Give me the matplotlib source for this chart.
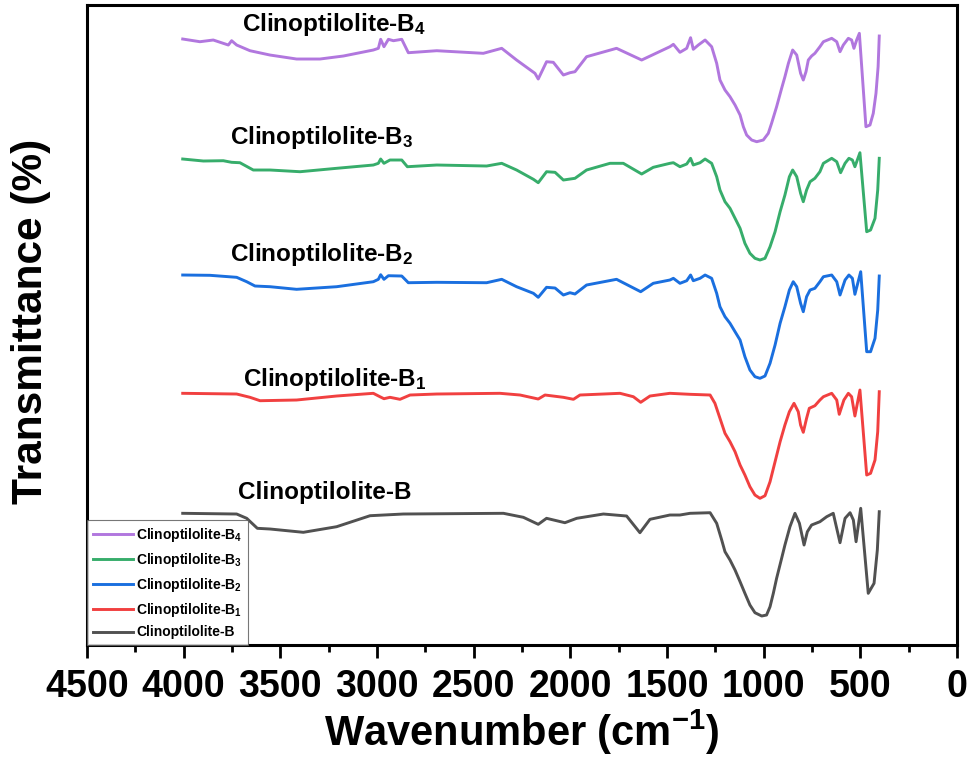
import matplotlib
matplotlib.use("Agg")
import matplotlib.pyplot as plt
from matplotlib.ticker import MultipleLocator

plt.rcParams['font.family'] = ['Liberation Sans', 'DejaVu Sans']
plt.rcParams['mathtext.fontset'] = 'custom'
plt.rcParams['mathtext.rm'] = 'Liberation Sans:bold'
plt.rcParams['mathtext.bf'] = 'Liberation Sans:bold'
plt.rcParams['mathtext.it'] = 'Liberation Sans:bold'

# ---- data (wavenumber cm-1, transmittance a.u. with vertical offsets) ----
wn_B4 = [4005, 3916, 3847, 3769, 3752, 3726, 3657, 3554, 3416, 3295, 3174, 3019, 2993, 2981, 2964,
         2941, 2915, 2872, 2838, 2691, 2450, 2355, 2278, 2183, 2166, 2123, 2088, 2036, 2002, 1976,
         1916, 1761, 1631, 1485, 1467, 1433, 1398, 1378, 1364, 1338, 1303,
         1269, 1243, 1226, 1200, 1174, 1148, 1122, 1105, 1088, 1062, 1036, 1002, 976, 959, 933, 907,
         890, 872, 850, 829, 809, 795, 781, 769, 752, 735, 709, 691, 648, 622, 605, 588, 562, 545,
         533, 519, 505, 471, 450, 433, 419, 408, 402]
T_B4 = [606, 603.3, 605, 600, 604.3, 600, 594.3, 590, 586, 586, 589, 595, 596.7, 605.7, 598.3,
        605.7, 604.3, 605.7, 592.3, 594.3, 591.7, 596.7, 585, 571.7, 566, 583.3, 582.7, 570, 572.3, 573.3,
        588.3, 596.7, 585, 598.3, 600.7, 592.7, 596.7, 607.3, 595.7, 600, 605,
        598.3, 581.7, 565, 555, 548.3, 540, 530, 518.3, 510, 505, 503.3, 505, 511.7, 521.7, 538.3, 556.7,
        568.3, 581.7, 595, 590, 571.7, 565, 573.3, 585, 589, 591.7, 598.3, 603.3, 606.7, 603.3, 593.3, 600, 606.7, 605,
        596.7, 605, 611.7, 518.3, 520, 531.7, 551.7, 578.3, 609]

wn_B3 = [4005, 3898, 3795, 3752, 3709, 3640, 3553, 3398, 3209, 3019, 2993, 2981, 2964, 2933, 2872,
         2843, 2691, 2433, 2355, 2278, 2191, 2166, 2123, 2079, 2036, 1976, 1916, 1795, 1726, 1631,
         1571, 1485, 1467, 1433, 1398, 1378, 1364, 1329, 1303,
         1269, 1243, 1226, 1200, 1174, 1148, 1122, 1097, 1071, 1045, 1019, 993, 967, 941, 915, 890,
         867, 850, 829, 809, 795, 778, 760, 735, 709, 691, 648, 622, 602, 579, 559, 541, 528, 502,
         467, 447, 424, 410, 402]
T_B3 = [486, 484, 484.3, 482.7, 482.3, 475, 475, 473.3, 476.7, 480, 481.7, 486, 481.7, 485, 485,
        478.3, 480, 479, 481.7, 475, 465.7, 462.3, 473.3, 472.7, 465, 466.7, 475, 481.7, 481.7, 471,
        477.7, 481.7, 482.3, 478.3, 481, 486.7, 480, 482.3, 486,
        481.7, 468.3, 455, 443.3, 436.7, 426.7, 416.7, 401.7, 391.7, 386.7, 385, 386.7, 398.3, 413.3, 433.3, 450,
        468.3, 475, 468.3, 451.7, 443.3, 455, 463.3, 466.7, 473.3, 481.7, 486.7, 483.3, 472.3, 481.7, 486.7, 485, 478.3, 492.3,
        413.3, 415, 426.7, 455, 486.7]

wn_B2 = [4005, 3864, 3726, 3674, 3631, 3553, 3416, 3209, 3019, 2993, 2981, 2964, 2941, 2872, 2838,
         2691, 2433, 2355, 2278, 2191, 2166, 2123, 2079, 2036, 2002, 1976, 1916, 1761, 1636, 1571,
         1485, 1467, 1433, 1398, 1378, 1364, 1329, 1303,
         1269, 1243, 1226, 1200, 1174, 1148, 1122, 1097, 1071, 1045, 1019, 993, 967, 941, 915, 890,
         867, 847, 829, 809, 795, 778, 760, 735, 709, 691, 648, 622, 605, 579, 559, 541, 528, 498,
         467, 447, 424, 410, 402]
T_B2 = [370, 369.7, 367.7, 363.3, 359, 358.3, 355.7, 358.3, 363.3, 365.7, 370.3, 365.7, 369.3, 369, 362.3,
        362.7, 362.3, 365.7, 358.3, 351.7, 347.7, 357.7, 357, 350, 352.3, 351, 360, 365.7, 353.3, 361.7,
        365, 366.7, 361.7, 364.3, 370, 364.3, 366.7, 370,
        366.7, 351.7, 338.3, 328.3, 321.7, 313.3, 305, 288.3, 275, 268.3, 266.7, 269, 281.7, 300, 321.7, 338.3,
        355, 363.3, 358.3, 341.7, 333.3, 348.3, 355, 356.7, 363.3, 368.3, 370, 363.3, 350, 365, 370, 366.7, 350.7, 373.3,
        293.3, 293.3, 306.7, 335, 369]

wn_B1 = [4005, 3726, 3657, 3605, 3416, 3209, 3019, 2985, 2964, 2933, 2881, 2829, 2691, 2364, 2260,
         2166, 2131, 2036, 1984, 1950, 1743, 1674, 1636, 1588, 1485, 1381, 1277,
         1252, 1226, 1200, 1174, 1148, 1122, 1097, 1071, 1045, 1019, 993, 967, 941, 915, 890,
         867, 843, 821, 809, 795, 778, 764, 735, 709, 691, 648, 622, 609, 585, 562, 545, 528, 502,
         467, 447, 424, 410, 402]
T_B1 = [251.7, 251, 247.7, 244.3, 245, 249, 251.7, 248.3, 246.3, 247.7, 245.7, 250, 251, 251.7, 250,
        246, 250, 247.7, 245.7, 250, 251.7, 248.3, 242.7, 249, 251.7, 250.7, 250,
        241.7, 226.7, 211.7, 203.3, 193.3, 180, 170, 158.3, 150, 146.7, 149.3, 163.3, 183.3, 203.3, 220,
        233.3, 241.7, 233.3, 220, 212.7, 226.7, 236.7, 239.3, 245, 248.3, 251.7, 245, 230.7, 245, 251.7, 248.3, 229, 255,
        170, 171.7, 185, 213.3, 253.3]

wn_B = [4005, 3726, 3674, 3619, 3553, 3381, 3209, 3036, 2864, 2346, 2243, 2166, 2123, 2028, 1967,
        1829, 1709, 1640, 1588, 1485, 1433, 1381, 1277,
        1243, 1217, 1200, 1174, 1148, 1122, 1097, 1071, 1045, 1010, 985, 967, 950, 933, 907, 890,
        864, 838, 815, 791, 774, 752, 709, 674, 640, 605, 579, 553, 536, 522, 498,
        459, 429, 412, 402]
T_B = [131.7, 131, 126.7, 116.7, 116, 112.7, 118.3, 129.3, 131, 131.7, 127.7, 120.7, 126.7, 122.3, 126.7,
       131, 129, 112.3, 125.7, 130, 130, 131.7, 132.3,
       121.7, 105, 93.3, 85, 75, 63.3, 51.7, 40, 32.3, 29, 30, 38.3, 51.7, 66.7, 86.7, 100,
       118.3, 131.7, 121.7, 100, 113.3, 120, 123.3, 128.3, 131.7, 102.3, 126.7, 132.3, 125, 103.3, 136.7,
       51.7, 61.7, 95, 133.3]

series = [
    ("Clinoptilolite-B$_{4}$", wn_B4, T_B4, "#B177DE"),
    ("Clinoptilolite-B$_{3}$", wn_B3, T_B3, "#37AD6B"),
    ("Clinoptilolite-B$_{2}$", wn_B2, T_B2, "#1A6FDF"),
    ("Clinoptilolite-B$_{1}$", wn_B1, T_B1, "#F14040"),
    ("Clinoptilolite-B", wn_B, T_B, "#515151"),
]
label_pos = [(3700, 621), (3762, 508), (3762, 391), (3695, 266), (3718, 153)]

fig = plt.figure(figsize=(9.69, 7.6), dpi=100)
ax = fig.add_axes([0.0898, 0.1513, 0.8978, 0.8421])

for (name, wn, T, c) in series:
    ax.plot(wn, T, color=c, lw=2.1, label=name, solid_joinstyle='round')

for (name, wn, T, c), (lx, ly) in zip(series, label_pos):
    ax.text(lx, ly, name, fontsize=17.5, fontweight='bold', ha='left', va='center', color='black')

ax.set_xlim(4500, 0)
ax.set_ylim(0, 640)
ax.xaxis.set_major_locator(MultipleLocator(500))
ax.xaxis.set_minor_locator(MultipleLocator(250))
ax.set_yticks([])
ax.tick_params(axis='x', which='major', direction='out', length=9, width=2, labelsize=27, pad=8)
ax.tick_params(axis='x', which='minor', direction='out', length=5, width=2)
for lab in ax.get_xticklabels():
    lab.set_fontweight('bold')
for s in ax.spines.values():
    s.set_linewidth(2.2)

ax.set_xlabel(r"Wavenumber $\mathregular{(cm^{-1})}$", fontsize=30, fontweight='bold', labelpad=2)
ax.set_ylabel("Transmittance (%)", fontsize=30.5, fontweight='bold')
ax.yaxis.set_label_coords(-0.041, 0.505)

leg = ax.legend(loc='lower left', prop={'weight': 'bold', 'size': 10},
                frameon=True, fancybox=False, edgecolor='#555555', borderaxespad=0.0,
                handlelength=2.9, labelspacing=0.5, borderpad=0.4, handletextpad=0.25)
leg.get_frame().set_linewidth(0.8)

fig.savefig("out.png", dpi=100)
